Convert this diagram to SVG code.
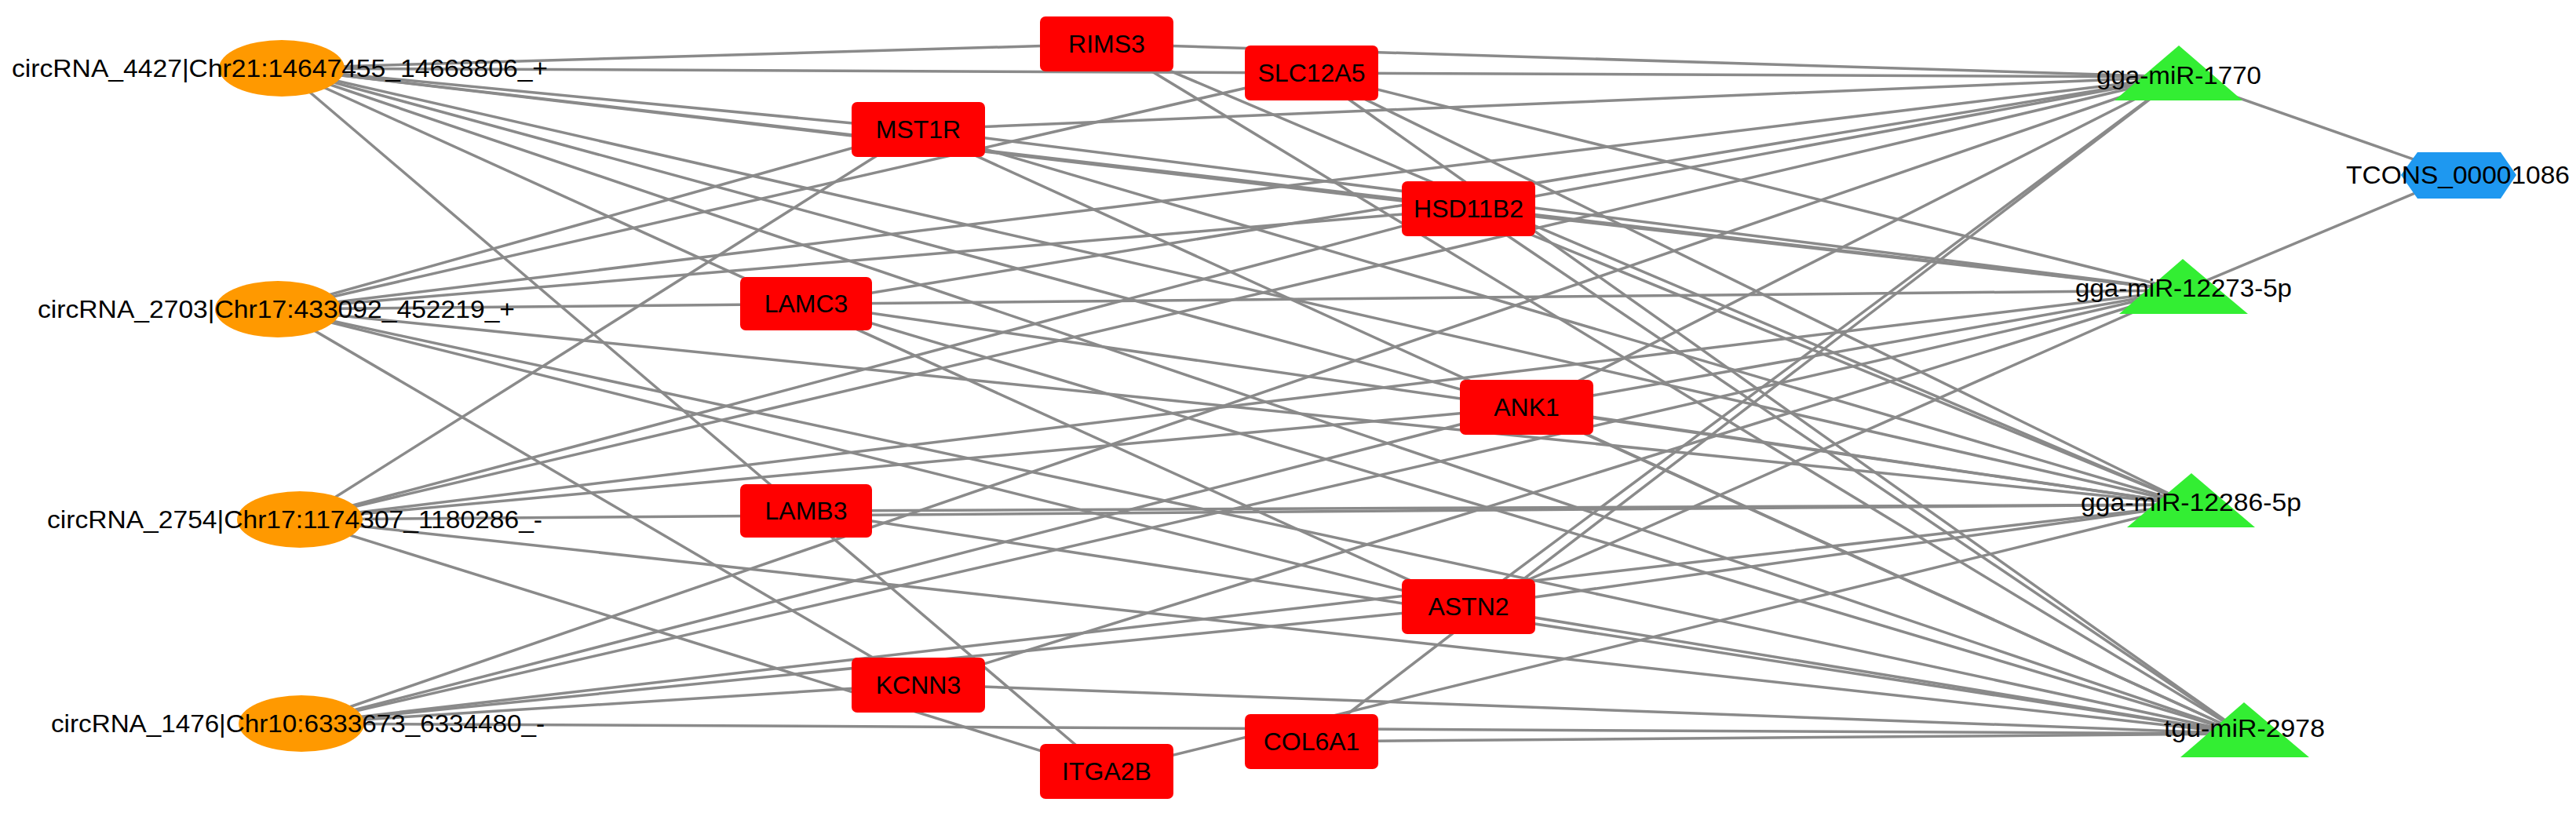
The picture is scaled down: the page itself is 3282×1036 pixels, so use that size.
<svg xmlns="http://www.w3.org/2000/svg" width="3282" height="1036" viewBox="0 0 3282 1036">
<style>
.e{stroke:#8a8a8a;stroke-width:3.5;fill:none}
.c{fill:#FF9900}
.m{fill:#FF0000}
.t{fill:#33EE33}
.h{fill:#1E98F0}
text{font-family:"Liberation Sans",Arial,sans-serif;font-size:31px;fill:#000}
.bl{text-anchor:middle;font-size:32px}
</style>
<rect width="3282" height="1036" fill="#fff"/>
<g id="edges">
<!-- circRNA to miRNA -->
<line class="e" x1="359" y1="87" x2="2776" y2="98"/>
<line class="e" x1="359" y1="87" x2="2781" y2="370"/>
<line class="e" x1="359" y1="87" x2="2792" y2="643"/>
<line class="e" x1="359" y1="87" x2="2859" y2="935"/>
<line class="e" x1="354" y1="394" x2="2776" y2="98"/>
<line class="e" x1="354" y1="394" x2="2781" y2="370"/>
<line class="e" x1="354" y1="394" x2="2792" y2="643"/>
<line class="e" x1="354" y1="394" x2="2859" y2="935"/>
<line class="e" x1="382" y1="662" x2="2776" y2="98"/>
<line class="e" x1="382" y1="662" x2="2781" y2="370"/>
<line class="e" x1="382" y1="662" x2="2792" y2="643"/>
<line class="e" x1="382" y1="662" x2="2859" y2="935"/>
<line class="e" x1="384" y1="922" x2="2776" y2="98"/>
<line class="e" x1="384" y1="922" x2="2781" y2="370"/>
<line class="e" x1="384" y1="922" x2="2792" y2="643"/>
<line class="e" x1="384" y1="922" x2="2859" y2="935"/>
<!-- circRNA to mRNA -->
<line class="e" x1="359" y1="87" x2="1410" y2="56"/>
<line class="e" x1="359" y1="87" x2="1170" y2="165"/>
<line class="e" x1="359" y1="87" x2="1870" y2="266"/>
<line class="e" x1="359" y1="87" x2="1945" y2="519"/>
<line class="e" x1="359" y1="87" x2="1870" y2="773"/>
<line class="e" x1="359" y1="87" x2="1410" y2="983"/>
<line class="e" x1="354" y1="394" x2="1170" y2="165"/>
<line class="e" x1="354" y1="394" x2="1671" y2="93"/>
<line class="e" x1="354" y1="394" x2="1870" y2="266"/>
<line class="e" x1="354" y1="394" x2="1170" y2="872"/>
<line class="e" x1="354" y1="394" x2="1870" y2="773"/>
<line class="e" x1="382" y1="662" x2="1170" y2="165"/>
<line class="e" x1="382" y1="662" x2="1410" y2="983"/>
<line class="e" x1="382" y1="662" x2="1945" y2="519"/>
<line class="e" x1="382" y1="662" x2="1870" y2="266"/>
<line class="e" x1="384" y1="922" x2="1870" y2="773"/>
<line class="e" x1="384" y1="922" x2="1945" y2="519"/>
<line class="e" x1="384" y1="922" x2="1170" y2="872"/>
<!-- mRNA to miRNA -->
<line class="e" x1="1410" y1="56" x2="2776" y2="98"/>
<line class="e" x1="1410" y1="56" x2="2792" y2="643"/>
<line class="e" x1="1410" y1="56" x2="2859" y2="935"/>
<line class="e" x1="1671" y1="93" x2="2781" y2="370"/>
<line class="e" x1="1671" y1="93" x2="2792" y2="643"/>
<line class="e" x1="1671" y1="93" x2="2859" y2="935"/>
<line class="e" x1="1170" y1="165" x2="2776" y2="98"/>
<line class="e" x1="1170" y1="165" x2="2781" y2="370"/>
<line class="e" x1="1170" y1="165" x2="2792" y2="643"/>
<line class="e" x1="1170" y1="165" x2="2859" y2="935"/>
<line class="e" x1="1870" y1="266" x2="2776" y2="98"/>
<line class="e" x1="1870" y1="266" x2="2781" y2="370"/>
<line class="e" x1="1870" y1="266" x2="2792" y2="643"/>
<line class="e" x1="1870" y1="266" x2="2859" y2="935"/>
<line class="e" x1="1027" y1="387" x2="2776" y2="98"/>
<line class="e" x1="1027" y1="387" x2="2792" y2="643"/>
<line class="e" x1="1027" y1="387" x2="2859" y2="935"/>
<line class="e" x1="1945" y1="519" x2="2776" y2="98"/>
<line class="e" x1="1945" y1="519" x2="2781" y2="370"/>
<line class="e" x1="1945" y1="519" x2="2792" y2="643"/>
<line class="e" x1="1945" y1="519" x2="2859" y2="935"/>
<line class="e" x1="1027" y1="651" x2="2792" y2="643"/>
<line class="e" x1="1027" y1="651" x2="2859" y2="935"/>
<line class="e" x1="1870" y1="773" x2="2776" y2="98"/>
<line class="e" x1="1870" y1="773" x2="2781" y2="370"/>
<line class="e" x1="1870" y1="773" x2="2792" y2="643"/>
<line class="e" x1="1870" y1="773" x2="2859" y2="935"/>
<line class="e" x1="1170" y1="872" x2="2781" y2="370"/>
<line class="e" x1="1170" y1="872" x2="2859" y2="935"/>
<line class="e" x1="1671" y1="945" x2="2776" y2="98"/>
<line class="e" x1="1671" y1="945" x2="2859" y2="935"/>
<line class="e" x1="1410" y1="983" x2="2792" y2="643"/>
<!-- lncRNA -->
<line class="e" x1="2776" y1="98" x2="3132" y2="223"/>
<line class="e" x1="2781" y1="370" x2="3132" y2="223"/>
</g>
<g id="circRNA_4427"><ellipse class="c" cx="359" cy="87" rx="80" ry="36"/><text x="15" y="98" textLength="683" lengthAdjust="spacingAndGlyphs">circRNA_4427|Chr21:14647455_14668806_+</text></g>
<g id="circRNA_2703"><ellipse class="c" cx="354" cy="394" rx="80" ry="36"/><text x="48" y="405" textLength="608" lengthAdjust="spacingAndGlyphs">circRNA_2703|Chr17:433092_452219_+</text></g>
<g id="circRNA_2754"><ellipse class="c" cx="382" cy="662" rx="80" ry="36"/><text x="60" y="673" textLength="631" lengthAdjust="spacingAndGlyphs">circRNA_2754|Chr17:1174307_1180286_-</text></g>
<g id="circRNA_1476"><ellipse class="c" cx="384" cy="922" rx="80" ry="36"/><text x="65" y="933" textLength="629" lengthAdjust="spacingAndGlyphs">circRNA_1476|Chr10:6333673_6334480_-</text></g>
<g id="RIMS3"><rect class="m" x="1325" y="21" width="170" height="70" rx="7"/><text class="bl" x="1410" y="67">RIMS3</text></g>
<g id="SLC12A5"><rect class="m" x="1586" y="58" width="170" height="70" rx="7"/><text class="bl" x="1671" y="104">SLC12A5</text></g>
<g id="MST1R"><rect class="m" x="1085" y="130" width="170" height="70" rx="7"/><text class="bl" x="1170" y="176">MST1R</text></g>
<g id="HSD11B2"><rect class="m" x="1786" y="231" width="170" height="70" rx="7"/><text class="bl" x="1871" y="277">HSD11B2</text></g>
<g id="LAMC3"><rect class="m" x="943" y="353" width="168" height="68" rx="7"/><text class="bl" x="1027" y="398">LAMC3</text></g>
<g id="ANK1"><rect class="m" x="1860" y="484" width="170" height="70" rx="7"/><text class="bl" x="1945" y="530">ANK1</text></g>
<g id="LAMB3"><rect class="m" x="943" y="617" width="168" height="68" rx="7"/><text class="bl" x="1027" y="662">LAMB3</text></g>
<g id="ASTN2"><rect class="m" x="1786" y="738" width="170" height="70" rx="7"/><text class="bl" x="1871" y="784">ASTN2</text></g>
<g id="KCNN3"><rect class="m" x="1085" y="838" width="170" height="70" rx="7"/><text class="bl" x="1170" y="884">KCNN3</text></g>
<g id="COL6A1"><rect class="m" x="1586" y="910" width="170" height="70" rx="7"/><text class="bl" x="1671" y="956">COL6A1</text></g>
<g id="ITGA2B"><rect class="m" x="1325" y="948" width="170" height="70" rx="7"/><text class="bl" x="1410" y="994">ITGA2B</text></g>
<g id="gga-miR-1770"><polygon class="t" points="2776,58 2857,128 2694,128"/><text x="2671" y="107" textLength="210" lengthAdjust="spacingAndGlyphs">gga-miR-1770</text></g>
<g id="gga-miR-12273-5p"><polygon class="t" points="2781,330 2864,400 2700,400"/><text x="2644" y="378" textLength="276" lengthAdjust="spacingAndGlyphs">gga-miR-12273-5p</text></g>
<g id="gga-miR-12286-5p"><polygon class="t" points="2792,603 2873,672 2710,672"/><text x="2651" y="651" textLength="281" lengthAdjust="spacingAndGlyphs">gga-miR-12286-5p</text></g>
<g id="tgu-miR-2978"><polygon class="t" points="2859,895 2942,965 2778,965"/><text x="2757" y="939" textLength="205" lengthAdjust="spacingAndGlyphs">tgu-miR-2978</text></g>
<g id="TCONS_00001086"><polygon class="h" points="3080,194 3186,194 3206,223 3186,253 3080,253 3059,223"/><text x="2989" y="234" textLength="285" lengthAdjust="spacingAndGlyphs">TCONS_00001086</text></g>
</svg>
